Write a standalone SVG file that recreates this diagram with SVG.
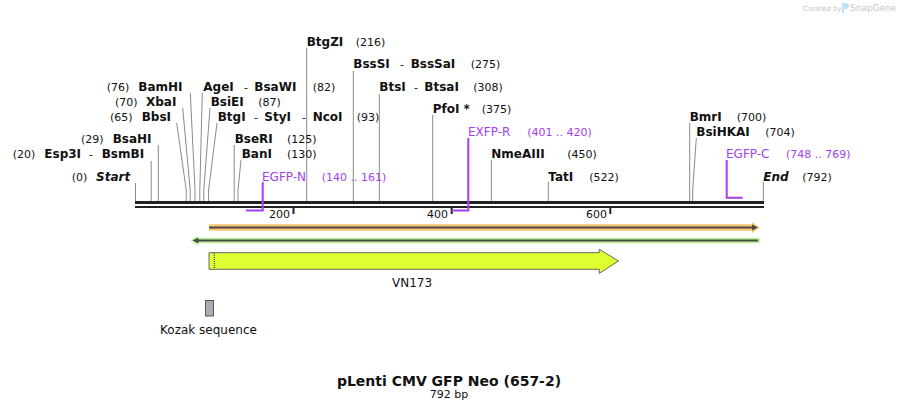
<svg xmlns="http://www.w3.org/2000/svg" width="899" height="411" viewBox="0 0 899 411">
<style>
text{font-family:"DejaVu Sans","Verdana",sans-serif;fill:#111}
.e{font-weight:bold;font-size:12px}
.n{font-size:11px}
.i{font-weight:bold;font-style:italic;font-size:12px}
.p{fill:#a43ef0;font-size:12px}
.pn{fill:#a43ef0;font-size:11px}
.s{stroke:#8a8a8a;stroke-width:1;fill:none}
.pr{stroke:#a43ef0;stroke-width:2;fill:none}
</style>
<rect width="899" height="411" fill="#fff"/>
<g id="watermark">
<text x="803" y="11" style="font-size:7px;fill:#c4c4c4">Created by</text>
<path d="M842,3 h4 a3,3 0 0 1 0,6 h-2 v4 h-2z" fill="#bfe0f5"/>
<text x="850" y="11" style="font-size:9px;fill:#c4c4c4">SnapGene</text>
</g>
<g id="connectors">
<path class="s" d="M135.5,183V201"/>
<path class="s" d="M151.2,161V201"/>
<path class="s" d="M158.3,145V201"/>
<path class="s" d="M176.7,123L186.2,190V201"/>
<path class="s" d="M182.7,108L190.2,190V201"/>
<path class="s" d="M190.3,93L195,190V201"/>
<path class="s" d="M202.3,93L199.8,190V201"/>
<path class="s" d="M210,108L203.8,190V201"/>
<path class="s" d="M217,123L208.6,190V201"/>
<path class="s" d="M234.2,145V201"/>
<path class="s" d="M241,160L238,190V201"/>
<path class="s" d="M306.7,48V201"/>
<path class="s" d="M353.3,71V201"/>
<path class="s" d="M379.3,94V201"/>
<path class="s" d="M432.7,115V201"/>
<path class="s" d="M491.3,160V201"/>
<path class="s" d="M548.3,182V201"/>
<path class="s" d="M689.7,123V201"/>
<path class="s" d="M696.3,138L692.7,190V201"/>
<path class="s" d="M763.3,182V201"/>
</g>
<g id="sequence">
<rect x="135" y="201" width="629" height="3" fill="#222"/>
<rect x="135" y="206" width="629" height="2" fill="#222"/>
<rect x="292.5" y="207" width="2" height="7" fill="#222"/>
<rect x="450.7" y="207" width="2" height="7" fill="#222"/>
<rect x="609.3" y="207" width="2" height="7" fill="#222"/>
<text class="n" x="290" y="218" text-anchor="end">200</text>
<text class="n" x="448" y="218" text-anchor="end">400</text>
<text class="n" x="607" y="218" text-anchor="end">600</text>
</g>
<g id="Start"><text class="n" x="71.7" y="181">(0)</text><text class="i" x="96" y="181">Start</text></g>
<g id="Esp3I"><text class="n" x="12.7" y="158">(20)</text><text class="e" x="44.3" y="158">Esp3I</text><text class="n" x="89" y="158">-</text><text class="e" x="101.7" y="158">BsmBI</text></g>
<g id="BsaHI"><text class="n" x="81" y="143">(29)</text><text class="e" x="112.7" y="143">BsaHI</text></g>
<g id="BbsI"><text class="n" x="110" y="121">(65)</text><text class="e" x="141.7" y="121">BbsI</text></g>
<g id="XbaI"><text class="n" x="115" y="106">(70)</text><text class="e" x="146" y="106">XbaI</text></g>
<g id="BamHI"><text class="n" x="106.7" y="91">(76)</text><text class="e" x="138.3" y="91">BamHI</text></g>
<g id="AgeI"><text class="e" x="203.3" y="91">AgeI</text><text class="n" x="244" y="91">-</text><text class="e" x="254.3" y="91">BsaWI</text><text class="n" x="312.7" y="91">(82)</text></g>
<g id="BsiEI"><text class="e" x="210.7" y="106">BsiEI</text><text class="n" x="258.3" y="106">(87)</text></g>
<g id="BtgI"><text class="e" x="217.7" y="121">BtgI</text><text class="n" x="254" y="121">-</text><text class="e" x="264.3" y="121">StyI</text><text class="n" x="302" y="121">-</text><text class="e" x="312.7" y="121">NcoI</text><text class="n" x="356.7" y="121">(93)</text></g>
<g id="BseRI"><text class="e" x="234.7" y="143">BseRI</text><text class="n" x="287" y="143">(125)</text></g>
<g id="BanI"><text class="e" x="241.7" y="158">BanI</text><text class="n" x="287" y="158">(130)</text></g>
<g id="BtgZI"><text class="e" x="306.7" y="46">BtgZI</text><text class="n" x="355.7" y="46">(216)</text></g>
<g id="BssSI"><text class="e" x="353.3" y="68">BssSI</text><text class="n" x="400" y="68">-</text><text class="e" x="410.7" y="68">BssSaI</text><text class="n" x="470.7" y="68">(275)</text></g>
<g id="BtsI"><text class="e" x="379.3" y="91">BtsI</text><text class="n" x="414" y="91">-</text><text class="e" x="424.3" y="91">BtsaI</text><text class="n" x="473.3" y="91">(308)</text></g>
<g id="PfoI"><text class="e" x="432.7" y="113">PfoI *</text><text class="n" x="481.7" y="113">(375)</text></g>
<g id="NmeAIII"><text class="e" x="491.3" y="158">NmeAIII</text><text class="n" x="567.3" y="158">(450)</text></g>
<g id="TatI"><text class="e" x="548.3" y="181">TatI</text><text class="n" x="589.3" y="181">(522)</text></g>
<g id="BmrI"><text class="e" x="689.7" y="121">BmrI</text><text class="n" x="736.7" y="121">(700)</text></g>
<g id="BsiHKAI"><text class="e" x="696.3" y="136">BsiHKAI</text><text class="n" x="765.3" y="136">(704)</text></g>
<g id="End"><text class="i" x="763.3" y="181">End</text><text class="n" x="802.3" y="181">(792)</text></g>
<g id="EGFP-N"><path class="pr" d="M262.7,182V210.5H246"/><text class="p" x="262" y="181">EGFP-N</text><text class="pn" x="321.7" y="181">(140 .. 161)</text></g>
<g id="EXFP-R"><path class="pr" d="M468.3,138V210.5H451.7"/><text class="p" x="468" y="136">EXFP-R</text><text class="pn" x="527.3" y="136">(401 .. 420)</text></g>
<g id="EGFP-C"><path class="pr" d="M726.7,160V197.7H742.7"/><text class="p" x="726" y="158">EGFP-C</text><text class="pn" x="786" y="158">(748 .. 769)</text></g>
<g id="orf1">
<path d="M209,224.3H752V222L759.5,227.5L752,233V230.7H209Z" fill="#fcc56f"/>
<path d="M209,227.5H753" stroke="#4a4a4a" stroke-width="2"/>
<path d="M758,227.5L752,224.5V230.5Z" fill="#4a4a4a"/>
</g>
<g id="orf2">
<path d="M760,237.7H197.5V235.5L190.5,240.5L197.5,245.5V243.3H760Z" fill="#bff29a"/>
<path d="M196,240.5H758" stroke="#4a4a4a" stroke-width="2"/>
<path d="M192.5,240.5L198.5,237.5V243.5Z" fill="#4a4a4a"/>
</g>
<g id="VN173">
<path d="M209,252.7H599.3V249.3L618.5,261L599.3,273.3V269.3H209Z" fill="#e0ff30" stroke="#666" stroke-width="1"/>
<path d="M214.3,253V269" stroke="#222" stroke-width="1" stroke-dasharray="1,1"/>
<text x="412" y="287" text-anchor="middle" style="font-size:12px">VN173</text>
</g>
<g id="Kozak">
<rect x="205.5" y="300.5" width="8" height="15.5" fill="#a9adb3" stroke="#555" stroke-width="1"/>
<text x="208.5" y="334" text-anchor="middle" style="font-size:12px">Kozak sequence</text>
</g>
<g id="title">
<text x="449" y="386" text-anchor="middle" style="font-size:14px;font-weight:bold">pLenti CMV GFP Neo (657-2)</text>
<text x="449" y="398" text-anchor="middle" style="font-size:11px">792 bp</text>
</g>
</svg>
